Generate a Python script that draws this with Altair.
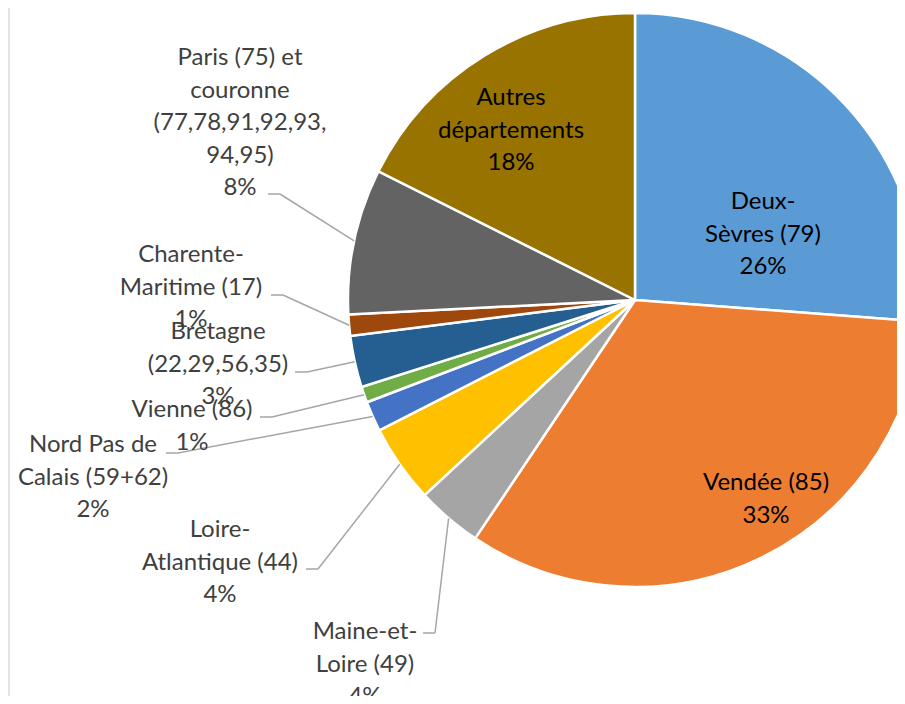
import math
import altair as alt
import pandas as pd

# ---------------- data ----------------
categories = [
    "Deux-Sèvres (79)",
    "Vendée (85)",
    "Maine-et-Loire (49)",
    "Loire-Atlantique (44)",
    "Nord Pas de Calais (59+62)",
    "Vienne (86)",
    "Bretagne (22,29,56,35)",
    "Charente-Maritime (17)",
    "Paris (75) et couronne (77,78,91,92,93,94,95)",
    "Autres départements",
]
shares = [26.2, 33.2, 3.7, 4.4, 1.7, 0.9, 2.9, 1.2, 8.2, 17.6]
label_names = [
    "Deux-\nSèvres (79)",
    "Vendée (85)",
    "Maine-et-\nLoire (49)",
    "Loire-\nAtlantique (44)",
    "Nord Pas de\nCalais (59+62)",
    "Vienne (86)",
    "Bretagne\n(22,29,56,35)",
    "Charente-\nMaritime (17)",
    "Paris (75) et\ncouronne\n(77,78,91,92,93,\n94,95)",
    "Autres\ndépartements",
]
colors = ["#5B9BD5", "#ED7D31", "#A5A5A5", "#FFC000", "#4472C4",
          "#70AD47", "#255E91", "#9E480E", "#636363", "#997300"]

# ---------------- layout ----------------
W, H = 889, 688
CX, CY, R = 627, 292, 287
FONT = "Lato"
FS = 24
LH = 32.5
# label anchor (px): centre x, centre y of the first line
label_pos = [(755, 194), (758, 475), (357, 624), (212, 522), (85, 437),
             (184, 402), (210, 324), (183, 247), (232, 50), (503, 90)]
inside = [True, True, False, False, False, False, False, False, False, True]
# leader-line elbows (px) for outside labels
elbows = {2: (427, 625), 3: (310, 561), 4: (170, 445), 5: (264, 409),
          6: (299, 364), 7: (275, 287), 8: (272, 186)}
TAIL = 12

total = sum(shares)
df = pd.DataFrame({"idx": range(len(categories)), "cat": categories, "share": shares})

# labels
lab_rows = []
for i, (name, v) in enumerate(zip(label_names, shares)):
    x, y = label_pos[i]
    lab_rows.append({
        "x": x, "y": y,
        "text": f"{name}\n{round(v / total * 100)}%",
        "color": "#000000" if inside[i] else "#404040",
    })
lab_df = pd.DataFrame(lab_rows)

# leader lines from slice mid-angle on the rim
cum = 0.0
rule_rows = []
for i, v in enumerate(shares):
    mid = (cum + v / 2) / total
    cum += v
    if i in elbows:
        a = 2 * math.pi * mid
        rx = CX + R * math.sin(a)
        ry = CY - R * math.cos(a)
        ex, ey = elbows[i]
        rule_rows.append({"x": rx, "y": ry, "x2": ex, "y2": ey})
        rule_rows.append({"x": ex, "y": ey, "x2": ex - TAIL, "y2": ey})
rule_df = pd.DataFrame(rule_rows)

pie = alt.Chart(df).mark_arc(radius=R, stroke="white", strokeWidth=2.5).encode(
    theta=alt.Theta("share:Q", stack=True),
    color=alt.Color("cat:N", scale=alt.Scale(domain=categories, range=colors), legend=None),
    order=alt.Order("idx:Q"),
    x=alt.value(CX),
    y=alt.value(CY),
)

leaders = alt.Chart(rule_df).mark_rule(color="#A6A6A6", strokeWidth=1.5).encode(
    x=alt.X("x:Q", scale=None),
    y=alt.Y("y:Q", scale=None),
    x2="x2:Q",
    y2="y2:Q",
)

labels = alt.Chart(lab_df).mark_text(
    lineBreak="\n", align="center", baseline="middle",
    font=FONT, fontSize=FS, lineHeight=LH,
).encode(
    x=alt.X("x:Q", scale=None),
    y=alt.Y("y:Q", scale=None),
    text="text:N",
    color=alt.Color("color:N", scale=None),
)

border = alt.Chart(pd.DataFrame({"x": [1]})).mark_rule(color="#D9D9D9", strokeWidth=1.5).encode(
    x=alt.X("x:Q", scale=None),
    y=alt.value(0),
    y2=alt.value(H),
)

chart = alt.layer(border, pie, leaders, labels).properties(
    width=W, height=H,
    autosize=alt.AutoSizeParams(type="none"),
    padding=0,
).configure_view(stroke=None)

chart.save("out.html", embed_options={"renderer": "svg", "actions": False})
